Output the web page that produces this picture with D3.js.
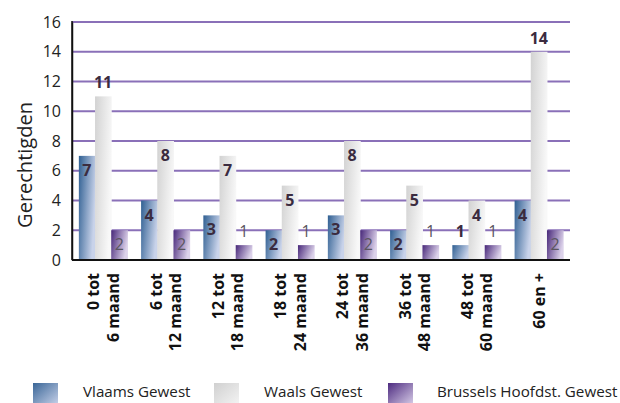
<!DOCTYPE html>
<html><head><meta charset="utf-8">
<script src="https://cdn.jsdelivr.net/npm/d3@7"></script>
<style>body{margin:0;background:#fff;}svg{display:block;font-family:"Open Sans","Noto Sans",sans-serif;}</style>
</head><body>
<svg id="c" width="620" height="403"></svg>
<script>
const categories = [["0 tot","6 maand"],["6 tot","12 maand"],["12 tot","18 maand"],["18 tot","24 maand"],["24 tot","36 maand"],["36 tot","48 maand"],["48 tot","60 maand"],["60 en +"]];
const seriesNames = ["Vlaams Gewest","Waals Gewest","Brussels Hoofdst. Gewest"];
const vlaams = [7,4,3,2,3,2,1,4];
const waals = [11,8,7,5,8,5,4,14];
const brussels = [2,2,1,1,2,1,1,2];
const yTicks = [0,2,4,6,8,10,12,14,16];
const yTitle = "Gerechtigden";

const series = [vlaams, waals, brussels];
const svg = d3.select("#c");
const m = {l:72, r:570, t:22, b:260};
const x = d3.scaleBand().domain(d3.range(categories.length)).range([m.l, m.r]).paddingInner(0.22).paddingOuter(0.11);
const xs = d3.scaleBand().domain(d3.range(3)).range([0, x.bandwidth()]);
const y = d3.scaleLinear().domain([0,16]).range([m.b, m.t]);

const defs = svg.append("defs");
function grad(id, c0, c1){
  const g = defs.append("linearGradient").attr("id",id).attr("x1","0").attr("y1","0").attr("x2","1").attr("y2","0.35");
  g.append("stop").attr("offset","0").attr("stop-color",c0);
  g.append("stop").attr("offset","1").attr("stop-color",c1);
}
grad("g0","#2f5f92","#c9d3ea");
grad("g1","#d2d2d2","#f8f8f8");
grad("g2","#472779","#dcd2ea");
function lgrad(id,c0,c1){
  const g = defs.append("linearGradient").attr("id",id).attr("x1","0").attr("y1","0").attr("x2","1").attr("y2","1");
  g.append("stop").attr("offset","0").attr("stop-color",c0);
  g.append("stop").attr("offset","1").attr("stop-color",c1);
}
lgrad("l0","#3a6697","#c8d2ea");
lgrad("l1","#d0d0d0","#f4f4f4");
lgrad("l2","#4d2b80","#d8cde8");

// gridlines
svg.append("g").selectAll("line").data(yTicks.filter(d=>d>0)).join("line")
  .attr("x1",m.l).attr("x2",m.r).attr("y1",d=>y(d)).attr("y2",d=>y(d))
  .attr("stroke","#8a70b8").attr("stroke-width",2);

// y axis
const ya = svg.append("g").attr("transform",`translate(${m.l},0)`)
  .call(d3.axisLeft(y).tickValues(yTicks).tickSize(0).tickPadding(11));
ya.select(".domain").attr("stroke","#111").attr("stroke-width",1.5);
ya.selectAll("text").attr("font-size",16).attr("fill","#222").attr("font-family","Open Sans");

// bars
const groups = svg.append("g").selectAll("g").data(categories).join("g")
  .attr("transform",(d,i)=>`translate(${x(i)},0)`);
groups.selectAll("rect").data((d,i)=>series.map((s,k)=>({k, v:s[i]}))).join("rect")
  .attr("x",d=>xs(d.k)).attr("width",xs.bandwidth()+0.5)
  .attr("y",d=>y(d.v)).attr("height",d=>y(0)-y(d.v))
  .attr("fill",d=>`url(#g${d.k})`);
groups.selectAll("text.v").data((d,i)=>series.map((s,k)=>({k, v:s[i]}))).join("text")
  .attr("class","v")
  .attr("x",d=>xs(d.k)+xs.bandwidth()/2)
  .attr("y",d=>{const inside = d.v>=2 && d.v<10; return inside ? y(d.v)+20 : y(d.v)-8;})
  .attr("text-anchor","middle")
  .attr("font-size",16)
  .attr("font-weight",d=>d.k===2?"normal":"bold")
  .attr("fill",d=>d.k===2?"#5a5560":"#3b2c40")
  .text(d=>d.v);

// axis lines
svg.append("line").attr("x1",m.l).attr("x2",m.r).attr("y1",m.b).attr("y2",m.b).attr("stroke","#111").attr("stroke-width",2);
svg.append("line").attr("x1",m.l).attr("x2",m.l).attr("y1",m.t-1).attr("y2",m.b).attr("stroke","#111").attr("stroke-width",1.5);

// x labels
categories.forEach((lines,i)=>{
  const cx = x(i)+x.bandwidth()/2;
  const n = lines.length;
  lines.forEach((t,j)=>{
    const off = (j-(n-1)/2)*19.5;
    svg.append("text").attr("transform",`translate(${cx+off+6},${m.b+13}) rotate(-90)`)
      .attr("text-anchor","end").attr("font-size",16).attr("font-weight","bold").attr("fill","#111")
      .text(t);
  });
});

// y title
svg.append("text").attr("transform","translate(32,165) rotate(-90)").attr("text-anchor","middle")
  .attr("font-size",20).attr("fill","#222").text(yTitle);

// legend
const legX = [33,214,388], txtX = [83,264,437];
seriesNames.forEach((n,k)=>{
  svg.append("rect").attr("x",legX[k]).attr("y",383).attr("width",25).attr("height",22).attr("fill",`url(#l${k})`);
  svg.append("text").attr("x",txtX[k]).attr("y",397).attr("font-size",15.2).attr("fill","#222").text(n);
});
</script>
</body></html>
